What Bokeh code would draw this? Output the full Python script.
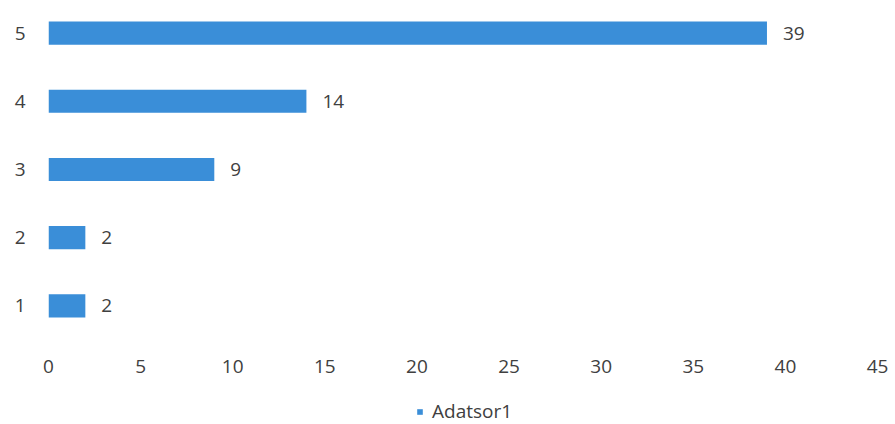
from bokeh.plotting import figure
from bokeh.layouts import column
from bokeh.models import ColumnDataSource, Range1d, Legend, LegendItem, FixedTicker, LabelSet
from bokeh.core.properties import value
from bokeh.embed import file_html
from bokeh.resources import INLINE

categories = [1, 2, 3, 4, 5]
values = [2, 2, 9, 14, 39]
x_ticks = [0, 5, 10, 15, 20, 25, 30, 35, 40, 45]
series_name = "Adatsor1"

BAR = "#3a8ed8"
TXT = "#404040"
FONT = "Open Sans"
FS = "19px"

src = ColumnDataSource(dict(y=categories, x=values, lbl=[str(v) for v in values]))

p = figure(width=895, height=386, output_backend="svg", toolbar_location=None,
           x_range=Range1d(0, 45), y_range=Range1d(0.42, 5.36),
           min_border_left=48, min_border_right=18, min_border_top=8,
           min_border_bottom=41)
p.outline_line_color = None
p.grid.grid_line_color = None
p.background_fill_color = "white"

r = p.hbar(y="y", right="x", left=0, height=0.34, source=src, fill_color=BAR, line_color=None)

labels = LabelSet(x="x", y="y", text="lbl", source=src, x_offset=16, y_offset=0,
                  text_baseline="middle", text_font=value(FONT), text_font_size=FS,
                  text_color=TXT)
p.add_layout(labels)

for ax in (p.xaxis[0], p.yaxis[0]):
    ax.axis_line_color = None
    ax.major_tick_line_color = None
    ax.minor_tick_line_color = None
    ax.major_label_text_font = FONT
    ax.major_label_text_font_size = FS
    ax.major_label_text_color = TXT

p.xaxis.ticker = FixedTicker(ticks=x_ticks)
p.xaxis.major_label_standoff = 8
p.yaxis.ticker = FixedTicker(ticks=categories)
p.yaxis.major_label_standoff = 17

# legend strip below the chart
lg = figure(width=895, height=38, output_backend="svg", toolbar_location=None,
            x_axis_type=None, y_axis_type=None, min_border=0,
            x_range=Range1d(0, 1), y_range=Range1d(10, 11))
lg.outline_line_color = None
lg.grid.grid_line_color = None
swatch = lg.hbar(y="y", right="x", left=0, height=0.34, source=src,
                 fill_color=BAR, line_color=None)
legend = Legend(items=[LegendItem(label=series_name, renderers=[swatch])],
                orientation="horizontal", location=(368, 0),
                label_text_font=FONT, label_text_font_size=FS, label_text_color=TXT,
                glyph_width=7, glyph_height=7, border_line_color=None,
                background_fill_alpha=0,
                padding=0, margin=0, spacing=4, label_standoff=9)
lg.add_layout(legend, "center")

layout = column(p, lg, spacing=0)
open("out.html", "w").write(file_html(layout, INLINE))
